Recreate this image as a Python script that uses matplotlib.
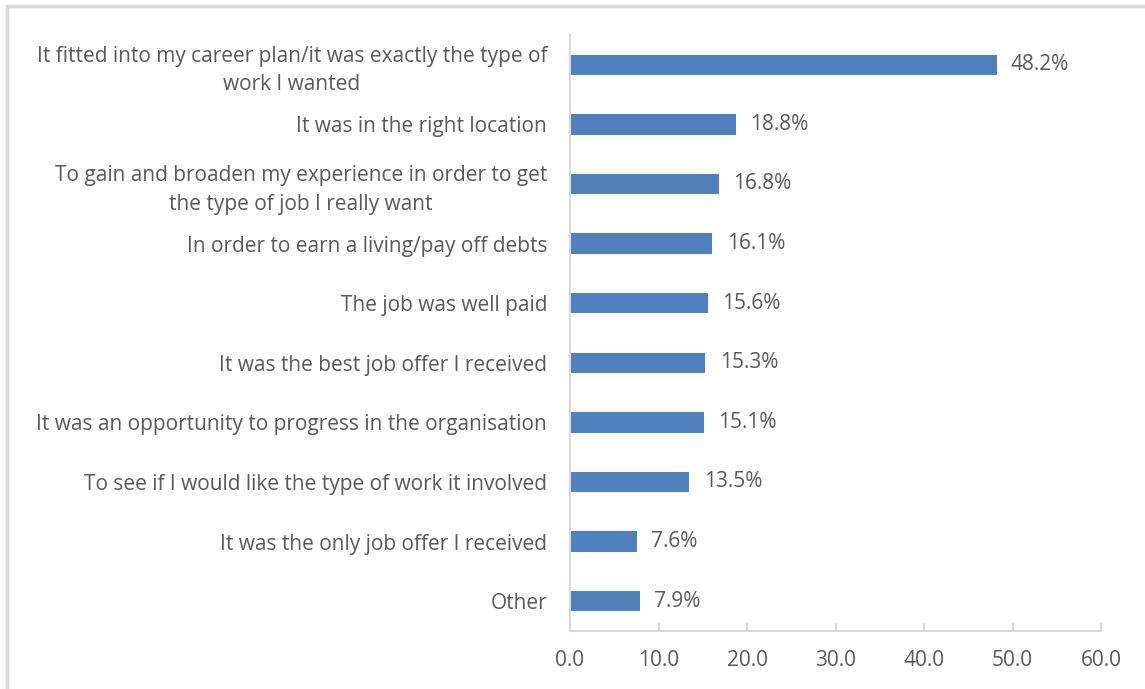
import matplotlib.pyplot as plt
from matplotlib.patches import Rectangle

# Reasons for taking the job, top to bottom
reasons = [
    "It fitted into my career plan/it was exactly the type of\nwork I wanted",
    "It was in the right location",
    "To gain and broaden my experience in order to get\nthe type of job I really want",
    "In order to earn a living/pay off debts",
    "The job was well paid",
    "It was the best job offer I received",
    "It was an opportunity to progress in the organisation",
    "To see if I would like the type of work it involved",
    "It was the only job offer I received",
    "Other",
]
percent = [48.2, 18.8, 16.8, 16.1, 15.6, 15.3, 15.1, 13.5, 7.6, 7.9]
xticks = [0, 10, 20, 30, 40, 50, 60]

bar_color = "#4F81BD"
text_color = "#595959"
axis_color = "#D9D9D9"

plt.rcParams['font.family'] = ['Open Sans', 'DejaVu Sans']
fs = 15

fig = plt.figure(figsize=(11.45, 6.89), dpi=100)
W, H = 1145, 689
ax = fig.add_axes([570 / W, 1 - 631 / H, 531 / W, 596 / H])

# chart frame (only top and left edges show)
fig.patches.append(Rectangle((7 / W, -0.1), 1.2, 1 - 6 / H + 0.1,
                             transform=fig.transFigure, fill=False,
                             edgecolor=axis_color, linewidth=2.5))

ypos = list(range(len(reasons)))
ax.barh(ypos, percent, height=0.34, color=bar_color)
ax.set_ylim(len(reasons) - 0.5, -0.5)
ax.set_xlim(0, 60)

for y, v in zip(ypos, percent):
    ax.text(v + 1.6, y, f"{v:.1f}%", va='center', ha='left',
            fontsize=fs, color=text_color)

ax.set_yticks(ypos)
ax.set_yticklabels(reasons, fontsize=fs, color=text_color,
                   multialignment='center', linespacing=1.45)
ax.tick_params(axis='y', length=0, pad=16.5)

ax.set_xticks(xticks)
ax.set_xticklabels([f"{t:.1f}" for t in xticks], fontsize=fs, color=text_color)
ax.tick_params(axis='x', direction='in', length=6, width=1.5, color=axis_color, pad=14)

for side in ['top', 'right']:
    ax.spines[side].set_visible(False)
for side in ['left', 'bottom']:
    ax.spines[side].set_color(axis_color)
    ax.spines[side].set_linewidth(1.5)

fig.savefig('out.png', dpi=100)
